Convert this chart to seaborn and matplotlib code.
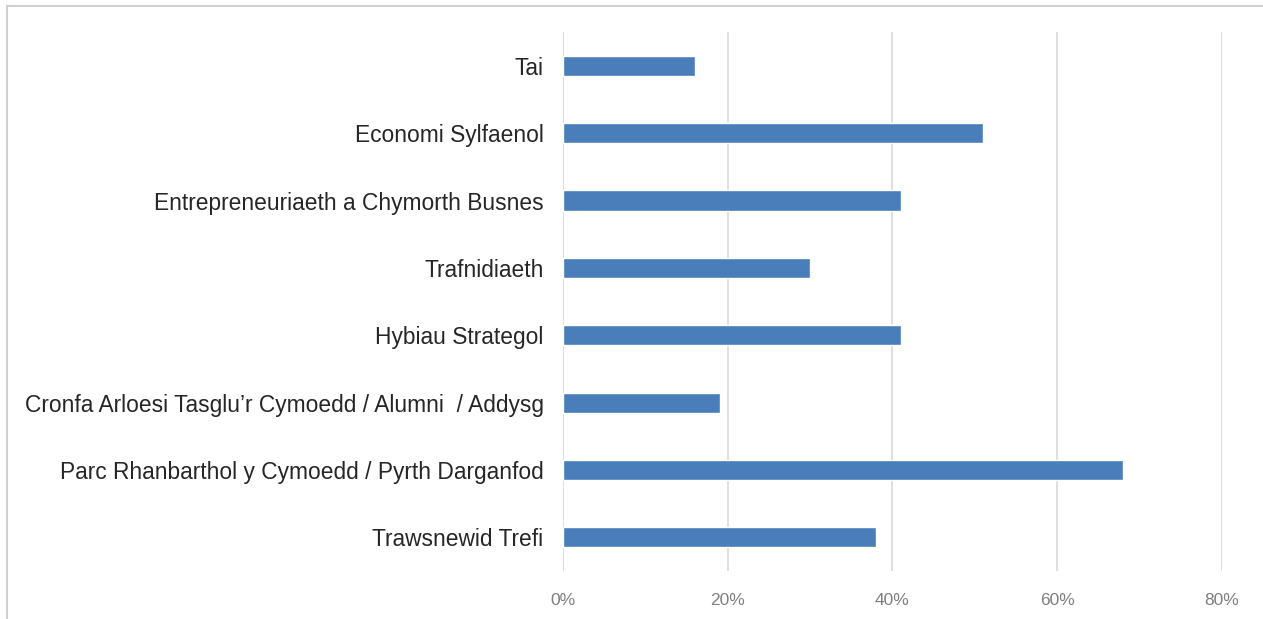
import matplotlib.pyplot as plt
import matplotlib.patches as mpatches
import seaborn as sns
import pandas as pd
from matplotlib.ticker import PercentFormatter

# ------------------------------------------------------------------------------------------------ #
categories = [
    "Tai",
    "Economi Sylfaenol",
    "Entrepreneuriaeth a Chymorth Busnes",
    "Trafnidiaeth",
    "Hybiau Strategol",
    "Cronfa Arloesi Tasglu\u2019r Cymoedd / Alumni  / Addysg",
    "Parc Rhanbarthol y Cymoedd / Pyrth Darganfod",
    "Trawsnewid Trefi",
]
shares = [16, 51, 41, 30, 41, 19, 68, 38]
xticks = [0, 20, 40, 60, 80]
# ------------------------------------------------------------------------------------------------ #

df = pd.DataFrame({"category": categories, "share": shares})

sns.set_style("white")
plt.rcParams["font.family"] = ["Liberation Sans", "DejaVu Sans"]

fig = plt.figure(figsize=(12.63, 6.19), dpi=100)
ax = fig.add_axes([0.4458, 0.0775, 0.5217, 0.8705])

sns.barplot(data=df, x="share", y="category", orient="h", color="#4A7EBB",
            saturation=1, width=0.3, ax=ax)

ax.set_xlim(0, 80)
ax.set_xticks(xticks)
ax.xaxis.set_major_formatter(PercentFormatter(decimals=0))
ax.grid(axis="x", color="#d9d9d9", linewidth=1.2)
ax.set_axisbelow(True)
for s in ax.spines.values():
    s.set_visible(False)
ax.set_xlabel("")
ax.set_ylabel("")
ax.tick_params(axis="y", length=0, pad=14, labelsize=16.4, labelcolor="#262626")
ax.tick_params(axis="x", length=0, pad=16, labelsize=12.5, labelcolor="#7f7f7f")

# outer chart frame
fig.patches.append(mpatches.Rectangle((7 / 1263, -0.1), 1.2, 1 - 6 / 619 + 0.1,
                                      transform=fig.transFigure, fill=False,
                                      edgecolor="#d0d0d0", linewidth=1.5))

fig.savefig("out.png", dpi=100)
